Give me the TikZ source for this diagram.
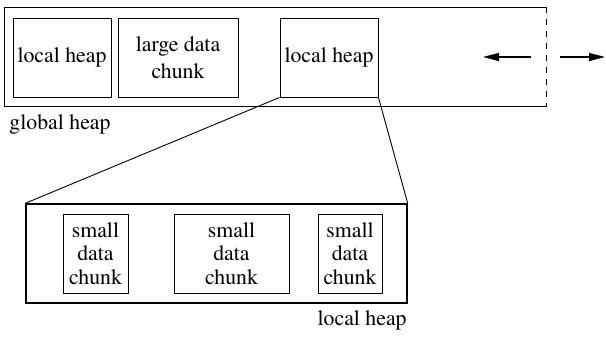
\documentclass[tikz,border=0pt]{standalone}
\usepackage{fontspec}
\setmainfont{texgyretermes}[Extension=.otf, UprightFont=*-regular]
\usetikzlibrary{arrows.meta}
\begin{document}
\begin{tikzpicture}[x=0.5pt, y=-0.5pt, font=\fontsize{10.9}{11.9}\selectfont, line join=miter,
	box/.style={draw, line width=0.45pt, inner sep=0pt, align=center, minimum height=39.5pt},
	heap/.style={inner sep=0pt, line width=0.7pt},
	lbl/.style={inner sep=0pt},
	>={Triangle[length=8pt, width=4pt]}]
	\useasboundingbox (0,0) rectangle (606,337);
	% global heap
	\node[heap, minimum width=270.5pt, minimum height=49pt] (global) at (275.5,57) {};
	\draw[line width=0.7pt] (global.north east)--(global.north west)--(global.south west)--(global.south east);
	\draw[line width=0.6pt, dashed] (global.north east)--(global.south east);
	\node[box, minimum width=49pt] (lh1) at (62,57.5) {local heap};
	\node[box, minimum width=60pt] (large) at (178,57.5) {large data\\[1.5pt]chunk};
	\node[box, minimum width=49pt] (lh3) at (329,57.5) {local heap};
	\node[lbl, anchor=west] (glabel) at (9,124) {global heap};
	% growth arrows
	\coordinate (a1) at (531,57); \coordinate (a2) at (483,57);
	\coordinate (b1) at (560,57); \coordinate (b2) at (605,57);
	\draw[->, line width=0.6pt] (a1)--(a2);
	\draw[->, line width=0.6pt] (b1)--(b2);
	% local heap, enlarged
	\node[heap, draw, minimum width=190.5pt, minimum height=49.5pt] (lower) at (216.5,253.5) {};
	\node[box, minimum width=32.5pt] (s1) at (95.5,253.5) {small\\data\\chunk};
	\node[box, minimum width=57.5pt] (s2) at (231.5,253.5) {small\\data\\chunk};
	\node[box, minimum width=32pt] (s3) at (350,253.5) {small\\data\\chunk};
	\node[lbl, anchor=east] (llabel) at (407,320) {local heap};
	\draw[line width=0.45pt] (lh3.south west)--(lower.north west)
	(lh3.south east)--(lower.north east);
\end{tikzpicture}
\end{document}
